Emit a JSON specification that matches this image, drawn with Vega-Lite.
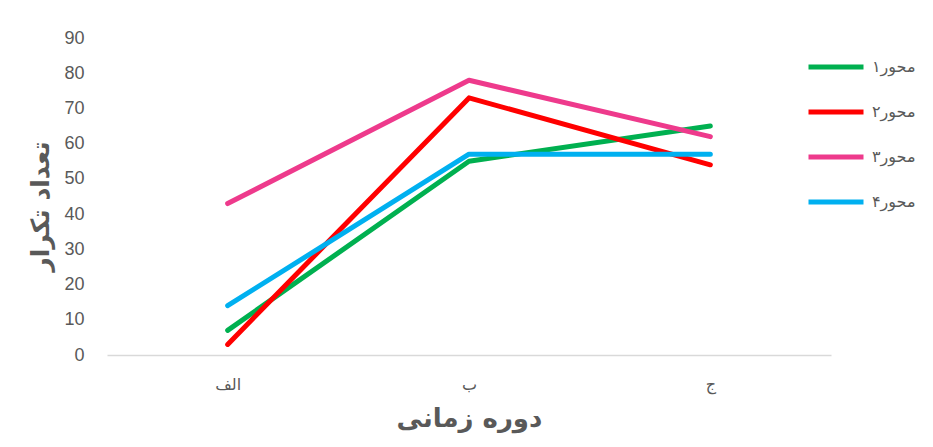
{
  "$schema": "https://vega.github.io/schema/vega-lite/v6.json",
  "autosize": "none",
  "width": 724,
  "height": 317,
  "padding": {"left": 107, "top": 38, "right": 102, "bottom": 92},
  "background": "white",
  "data": {
    "values": [
      {"period": "الف", "series": "محور۱", "value": 7},
      {"period": "ب", "series": "محور۱", "value": 55},
      {"period": "ج", "series": "محور۱", "value": 65},
      {"period": "الف", "series": "محور۲", "value": 3},
      {"period": "ب", "series": "محور۲", "value": 73},
      {"period": "ج", "series": "محور۲", "value": 54},
      {"period": "الف", "series": "محور۳", "value": 43},
      {"period": "ب", "series": "محور۳", "value": 78},
      {"period": "ج", "series": "محور۳", "value": 62},
      {"period": "الف", "series": "محور۴", "value": 14},
      {"period": "ب", "series": "محور۴", "value": 57},
      {"period": "ج", "series": "محور۴", "value": 57}
    ]
  },
  "mark": {"type": "line", "strokeWidth": 5, "strokeCap": "round", "strokeJoin": "round"},
  "encoding": {
    "x": {
      "field": "period",
      "type": "ordinal",
      "sort": ["الف", "ب", "ج"],
      "scale": {"type": "point", "padding": 0.5},
      "axis": {
        "title": "دوره زمانی",
        "titleFont": "DejaVu Sans",
        "titleFontSize": 26,
        "titleFontWeight": "bold",
        "titleColor": "#595959",
        "titleBaseline": "middle",
        "titleY": 63,
        "labelAngle": 0,
        "labelFont": "DejaVu Sans",
        "labelFontSize": 16,
        "labelColor": "#595959",
        "labelPadding": 21,
        "ticks": false,
        "grid": false,
        "domainColor": "#D9D9D9",
        "domainWidth": 1.5
      }
    },
    "y": {
      "field": "value",
      "type": "quantitative",
      "scale": {"domain": [0, 90], "nice": false},
      "axis": {
        "title": "تعداد تکرار",
        "titleFont": "DejaVu Sans",
        "titleFontSize": 25,
        "titleFontWeight": "bold",
        "titleColor": "#595959",
        "titleBaseline": "middle",
        "titleX": -67,
        "titleY": 168,
        "values": [0, 10, 20, 30, 40, 50, 60, 70, 80, 90],
        "labelFont": "Liberation Sans",
        "labelFontSize": 18,
        "labelColor": "#595959",
        "labelPadding": 23,
        "ticks": false,
        "grid": false,
        "domain": false
      }
    },
    "color": {
      "field": "series",
      "type": "nominal",
      "scale": {
        "domain": ["محور۱", "محور۲", "محور۳", "محور۴"],
        "range": ["#00B050", "#FF0000", "#EE3A8C", "#00B0F0"]
      },
      "legend": {
        "title": null,
        "orient": "none",
        "legendX": 699,
        "legendY": -1,
        "padding": 0,
        "symbolType": "stroke",
        "symbolSize": 3025,
        "symbolStrokeWidth": 5,
        "rowPadding": 5,
        "labelFont": "DejaVu Sans",
        "labelFontSize": 16,
        "labelColor": "#595959",
        "labelOffset": 6
      }
    }
  },
  "config": {"view": {"stroke": null}}
}
